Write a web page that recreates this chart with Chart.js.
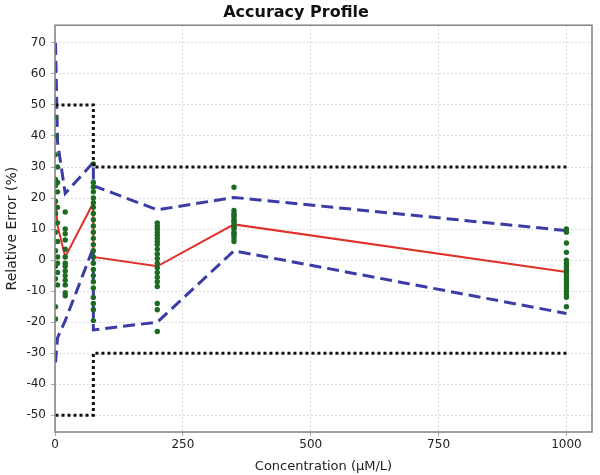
<!DOCTYPE html>
<html>
<head>
<meta charset="utf-8">
<script src="https://cdn.jsdelivr.net/npm/chart.js@4/dist/chart.umd.min.js"></script>
<style>
  html, body { margin: 0; padding: 0; background: #fff; }
  #wrap { width: 600px; height: 475px; }
</style>
</head>
<body>
<div id="wrap"><canvas id="profile"></canvas></div>
<script>
// concentration levels and observed relative errors (%)
const levels = [1, 5, 20, 75, 200, 350, 1000];
const obs1 = [46, 40, 34, 26, 24, 19, 15, 9, 3, -2, -6, -15, -19];
const obs5 = [30, 25, 22, 17, 12, 6, 1, -1, -4, -8];
const obs20 = [15.5, 10, 8.5, 6.5, 3.5, 1, -1, -2, -3.5, -5, -6.5, -8, -10.5, -11.5];
const obs75 = [31, 25, 23.5, 22, 20, 18.5, 17, 15, 13, 11, 9, 7, 5, 3, 1, -1, -3, -5, -7, -9, -12, -14, -16, -19.5];
const obs200 = [12, 11, 10, 9, 8, 7, 6, 5, 3.5, 2, 0.5, -1, -2.5, -4, -5.5, -7, -8.5, -14, -16, -23];
const obs350 = [23.5, 16, 15, 14.5, 14, 13, 12.5, 12, 11, 10.5, 10, 9, 8.5, 8, 7, 6];
const obs1000 = [10, 9, 5.5, 2.5, 0, -1, -2, -3, -4, -5, -6, -7, -8, -9, -10, -11, -12, -15];
const observations = [obs1, obs5, obs20, obs75, obs200, obs350, obs1000];

// accuracy profile
const profileConc = [1, 5, 20, 75, 75, 200, 350, 1000];
const meanBias = [19, 11, 1, 18.5, 1, -2, 11.5, -3.8];
const upperTol = [70, 38, 21.5, 31.5, 24, 16.2, 20.2, 9.5];
const lowerTol = [-33, -25, -19.5, 4, -22.5, -20, 3, -17.2];

// acceptance limits
const limitConc = [1, 75, 75, 1000];
const upperLimit = [50, 50, 30, 30];
const lowerLimit = [-50, -50, -30, -30];

// x tick labels
const xTicks = [0, 250, 500, 750, 1000];

function pts(xs, ys) {
    return xs.map((x, i) => ({ x: x, y: ys[i] }));
}

const obsPoints = [];
levels.forEach((c, i) => {
    observations[i].forEach(v => obsPoints.push({ x: c, y: v }));
});

const frame = {
    id: 'frame',
    afterDraw(chart) {
        const a = chart.chartArea;
        const ctx = chart.ctx;
        ctx.save();
        ctx.strokeStyle = '#808080';
        ctx.lineWidth = 1.5;
        ctx.strokeRect(a.left, a.top, a.right - a.left, a.bottom - a.top);
        ctx.restore();
    }
};

const lineStyle = {
    showLine: true,
    pointRadius: 0,
    fill: false,
    tension: 0
};

new Chart(
    document.getElementById('profile').getContext('2d'),
    {
        type: 'scatter',
        data: {
            datasets: [
                Object.assign({
                    label: 'Upper limit',
                    data: pts(limitConc, upperLimit),
                    borderColor: '#111',
                    borderWidth: 3,
                    borderDash: [3, 3]
                }, lineStyle),
                Object.assign({
                    label: 'Lower limit',
                    data: pts(limitConc, lowerLimit),
                    borderColor: '#111',
                    borderWidth: 3,
                    borderDash: [3, 3]
                }, lineStyle),
                {
                    label: 'Observations',
                    data: obsPoints,
                    backgroundColor: '#1d6b22',
                    borderColor: '#1d6b22',
                    pointRadius: 2.7,
                    borderWidth: 0
                },
                Object.assign({
                    label: 'Upper tolerance',
                    data: pts(profileConc, upperTol),
                    borderColor: '#3b3ca6',
                    borderWidth: 3,
                    borderDash: [12, 6]
                }, lineStyle),
                Object.assign({
                    label: 'Lower tolerance',
                    data: pts(profileConc, lowerTol),
                    borderColor: '#3b3ca6',
                    borderWidth: 3,
                    borderDash: [12, 6]
                }, lineStyle),
                Object.assign({
                    label: 'Mean bias',
                    data: pts(profileConc, meanBias),
                    borderColor: '#e0302a',
                    borderWidth: 2
                }, lineStyle)
            ]
        },
        options: {
            responsive: true,
            maintainAspectRatio: false,
            animation: false,
            layout: {
                padding: { right: 8, left: 0, top: 0, bottom: 0 }
            },
            plugins: {
                legend: { display: false },
                tooltip: { enabled: false },
                title: {
                    display: true,
                    text: 'Accuracy Profile',
                    color: '#111',
                    font: { family: 'DejaVu Sans', size: 16, weight: 'bold' },
                    padding: { top: 3, bottom: 3 }
                }
            },
            scales: {
                x: {
                    type: 'linear',
                    min: 0,
                    max: 1050,
                    afterFit(scale) { scale.height = 43; },
                    afterBuildTicks(scale) {
                        scale.ticks = xTicks.map(v => ({ value: v }));
                    },
                    ticks: {
                        color: '#222',
                        padding: 2,
                        font: { family: 'DejaVu Sans', size: 12 },
                        callback: v => String(v)
                    },
                    grid: {
                        color: '#dcdcdc',
                        tickLength: 4,
                        tickColor: '#aaa'
                    },
                    border: { display: false, dash: [2, 2] },
                    title: {
                        display: true,
                        text: 'Concentration (µM/L)',
                        color: '#222',
                        padding: { top: 0, bottom: 1 },
                        font: { family: 'DejaVu Sans', size: 13 }
                    }
                },
                y: {
                    min: -55.4,
                    max: 75.7,
                    afterFit(scale) { scale.width = 55; },
                    ticks: {
                        stepSize: 10,
                        includeBounds: false,
                        color: '#222',
                        padding: 5,
                        font: { family: 'DejaVu Sans', size: 12 }
                    },
                    grid: {
                        color: '#dcdcdc',
                        tickLength: 4,
                        tickColor: '#aaa'
                    },
                    border: { display: false, dash: [2, 2] },
                    title: {
                        display: true,
                        text: 'Relative Error (%)',
                        color: '#222',
                        padding: { top: 4, bottom: 0 },
                        font: { family: 'DejaVu Sans', size: 14 }
                    }
                }
            }
        },
        plugins: [frame]
    }
);
</script>
</body>
</html>
